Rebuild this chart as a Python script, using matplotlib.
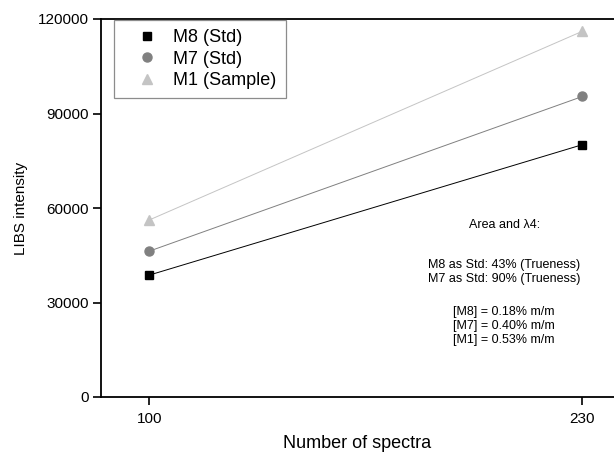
import matplotlib.pyplot as plt

plt.rcParams["font.family"] = ["Liberation Sans", "DejaVu Sans"]

# Data
spectra = [100, 230]
m8 = [38700, 80100]
m7 = [46300, 95400]
m1 = [56200, 116100]

fig = plt.figure(figsize=(6.14, 4.53), dpi=100)
ax = fig.add_axes([101 / 614, 56 / 453, 1.0 - 101 / 614, 378 / 453])

ax.plot(spectra, m8, color="black", lw=0.7, marker="s", ms=5.5, label="M8 (Std)")
ax.plot(spectra, m7, color="#808080", lw=0.7, marker="o", ms=6.5, label="M7 (Std)")
ax.plot(spectra, m1, color="#c4c4c4", lw=0.7, marker="^", ms=7.5, label="M1 (Sample)")

ax.set_xlim(85.5, 239.5)
ax.set_ylim(0, 120000)
ax.set_xticks(spectra)
ax.set_yticks([0, 30000, 60000, 90000, 120000])
ax.tick_params(labelsize=11, length=6, width=1.2, pad=3)
ax.tick_params(axis="x", pad=5)
ax.spines["right"].set_visible(False)
for s in ["left", "bottom", "top"]:
    ax.spines[s].set_linewidth(1.3)

ax.set_xlabel("Number of spectra", fontsize=13, labelpad=6)
ax.set_ylabel("LIBS intensity", fontsize=11, labelpad=7)

# legend with markers only
handles, labels = ax.get_legend_handles_labels()
leg = ax.legend(handles, labels, loc="upper left", bbox_to_anchor=(0.0253, 0.997),
                fontsize=13, frameon=True, fancybox=False, edgecolor="#707070",
                borderaxespad=0.0, handlelength=2.67, handletextpad=0.12,
                labelspacing=0.25, borderpad=0.5)
leg.get_frame().set_linewidth(0.9)
for line in leg.get_lines():
    line.set_linestyle("none")

ax.text(0.786, 0.455, "Area and \u03bb4:", transform=ax.transAxes,
        ha="center", va="center", fontsize=9)
ax.text(0.785, 0.33, "M8 as Std: 43% (Trueness)\nM7 as Std: 90% (Trueness)",
        transform=ax.transAxes, ha="center", va="center", fontsize=9,
        linespacing=1.25)
ax.text(0.785, 0.188, "[M8] = 0.18% m/m\n[M7] = 0.40% m/m\n[M1] = 0.53% m/m",
        transform=ax.transAxes, ha="center", va="center", fontsize=9,
        linespacing=1.25)

plt.savefig("out.png", dpi=100)
